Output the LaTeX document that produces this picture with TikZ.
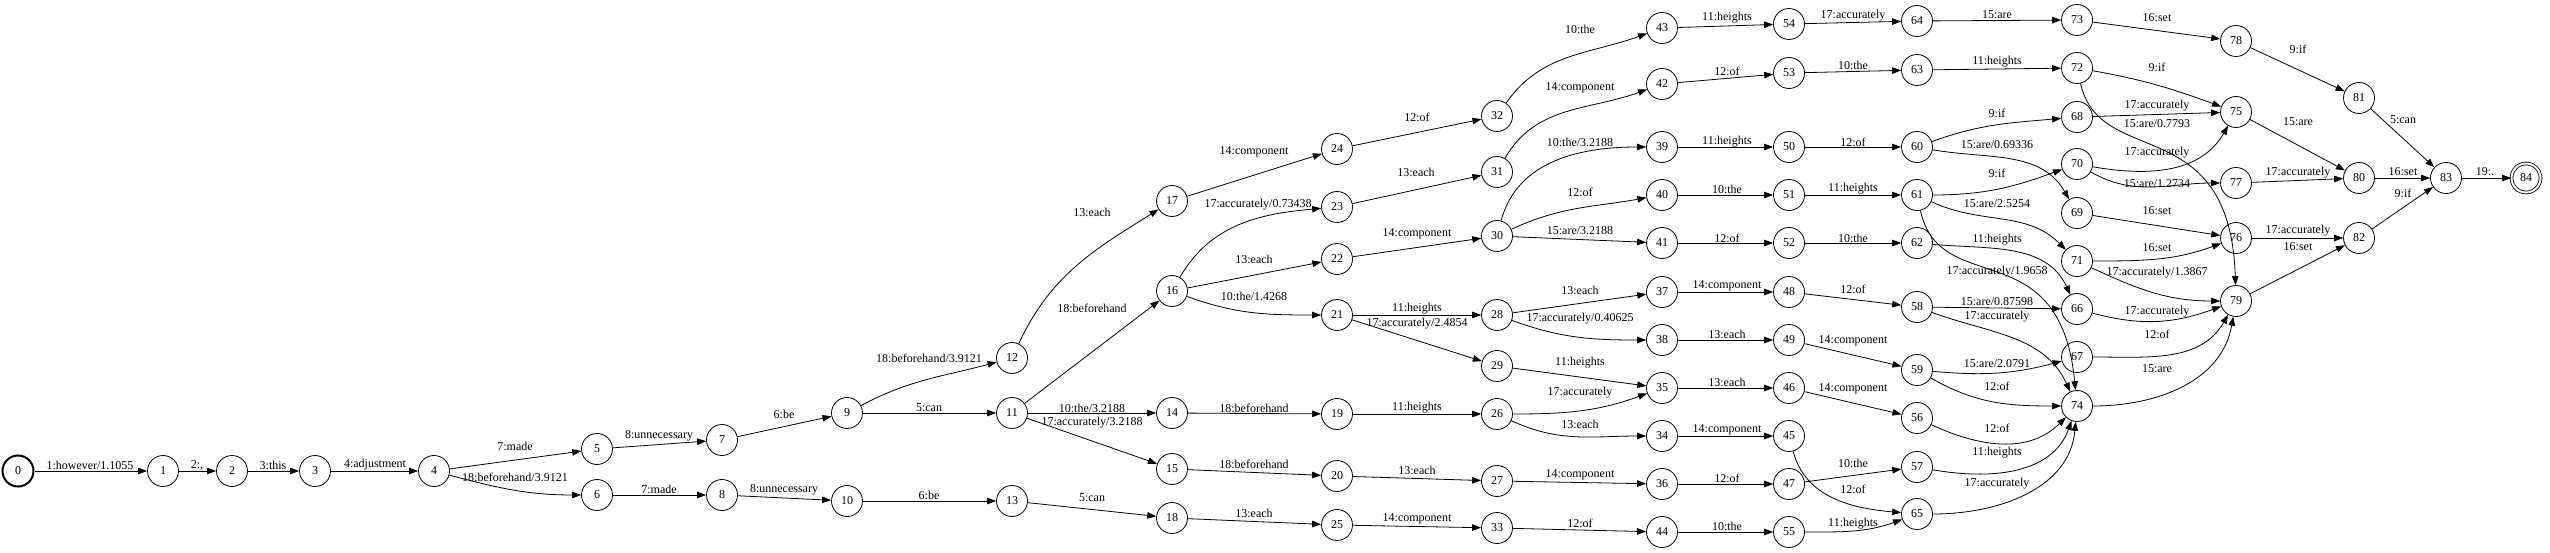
\documentclass[tikz,border=0pt]{standalone}
\usepackage{fontspec}
\setmainfont{Liberation Serif}
\usetikzlibrary{arrows.meta}

\tikzset{
  state/.style={circle, draw, minimum size=31pt, inner sep=0pt},
  initstate/.style={state, line width=2pt},
  finalstate/.style={state, double, double distance=2pt, minimum size=29pt},
  lbl/.style={inner sep=0pt}
}

\begin{document}
\begin{tikzpicture}[x=1pt, y=1pt, line width=0.8pt, font=\fontsize{12}{14}\selectfont,
    >={Triangle[length=9pt, width=6.5pt]}]
        \useasboundingbox (0,0) rectangle (2550,552);

        % States, column by column
        \node[initstate] (s0) at (18,81) {0};
        \node[state] (s1) at (163,81) {1};
        \node[state] (s2) at (232,81) {2};
        \node[state] (s3) at (315,81) {3};
        \node[state] (s4) at (434,81) {4};
        \node[state] (s5) at (597,103) {5};
        \node[state] (s6) at (597,57) {6};
        \node[state] (s7) at (722,112) {7};
        \node[state] (s8) at (722,57) {8};
        \node[state] (s9) at (847,139) {9};
        \node[state] (s10) at (847,51) {10};
        \node[state] (s11) at (1012,139) {11};
        \node[state] (s12) at (1012,194) {12};
        \node[state] (s13) at (1012,51) {13};
        \node[state] (s14) at (1172,139) {14};
        \node[state] (s15) at (1172,83) {15};
        \node[state] (s16) at (1172,261) {16};
        \node[state] (s17) at (1172,351) {17};
        \node[state] (s18) at (1172,34) {18};
        \node[state] (s19) at (1337,138) {19};
        \node[state] (s20) at (1337,76) {20};
        \node[state] (s21) at (1337,237) {21};
        \node[state] (s22) at (1337,293) {22};
        \node[state] (s23) at (1337,345) {23};
        \node[state] (s24) at (1337,403) {24};
        \node[state] (s25) at (1337,27) {25};
        \node[state] (s26) at (1497,138) {26};
        \node[state] (s27) at (1497,71) {27};
        \node[state] (s28) at (1497,237) {28};
        \node[state] (s29) at (1497,186) {29};
        \node[state] (s30) at (1497,316) {30};
        \node[state] (s31) at (1497,380) {31};
        \node[state] (s32) at (1497,436) {32};
        \node[state] (s33) at (1497,24) {33};
        \node[state] (s34) at (1662,116) {34};
        \node[state] (s35) at (1662,164) {35};
        \node[state] (s36) at (1662,68) {36};
        \node[state] (s37) at (1662,260) {37};
        \node[state] (s38) at (1662,212) {38};
        \node[state] (s39) at (1662,405) {39};
        \node[state] (s40) at (1662,357) {40};
        \node[state] (s41) at (1662,309) {41};
        \node[state] (s42) at (1662,468) {42};
        \node[state] (s43) at (1662,524) {43};
        \node[state] (s44) at (1662,20) {44};
        \node[state] (s45) at (1789,116) {45};
        \node[state] (s46) at (1789,164) {46};
        \node[state] (s47) at (1789,68) {47};
        \node[state] (s48) at (1789,260) {48};
        \node[state] (s49) at (1789,212) {49};
        \node[state] (s50) at (1789,405) {50};
        \node[state] (s51) at (1789,357) {51};
        \node[state] (s52) at (1789,309) {52};
        \node[state] (s53) at (1789,479) {53};
        \node[state] (s54) at (1789,528) {54};
        \node[state] (s55) at (1789,20) {55};
        \node[state] (s56) at (1917,134) {56};
        \node[state] (s57) at (1917,85) {57};
        \node[state] (s58) at (1917,245) {58};
        \node[state] (s59) at (1917,182) {59};
        \node[state] (s60) at (1917,405) {60};
        \node[state] (s61) at (1917,357) {61};
        \node[state] (s62) at (1917,309) {62};
        \node[state] (s63) at (1917,482) {63};
        \node[state] (s64) at (1917,531) {64};
        \node[state] (s65) at (1917,38) {65};
        \node[state] (s66) at (2077,243) {66};
        \node[state] (s67) at (2077,195) {67};
        \node[state] (s68) at (2077,435) {68};
        \node[state] (s69) at (2077,339) {69};
        \node[state] (s70) at (2077,388) {70};
        \node[state] (s71) at (2077,291) {71};
        \node[state] (s72) at (2077,484) {72};
        \node[state] (s73) at (2077,532) {73};
        \node[state] (s74) at (2077,146) {74};
        \node[state] (s75) at (2236,440) {75};
        \node[state] (s76) at (2236,314) {76};
        \node[state] (s77) at (2236,369) {77};
        \node[state] (s78) at (2236,511) {78};
        \node[state] (s79) at (2236,251) {79};
        \node[state] (s80) at (2359,374) {80};
        \node[state] (s81) at (2359,454) {81};
        \node[state] (s82) at (2359,314) {82};
        \node[state] (s83) at (2446,374) {83};
        \node[finalstate] (s84) at (2526,374) {84};

        % Opening words
        \draw[->] (s0) -- (s1) node[lbl] at (90,87) {1:however/1.1055};
        \draw[->] (s1) -- (s2) node[lbl] at (197,87) {2:,};
        \draw[->] (s2) -- (s3) node[lbl] at (273,87) {3:this};
        \draw[->] (s3) -- (s4) node[lbl] at (375,87) {4:adjustment};
        \draw[->] (s4) -- (s5) node[lbl] at (515,106) {7:made};
        \draw[->] (s4) to[out=-15, in=180] (s6) node[lbl] at (515,75) {18:beforehand/3.9121};
        \draw[->] (s5) -- (s7) node[lbl] at (659,116) {8:unnecessary};
        \draw[->] (s6) -- (s8) node[lbl] at (659,63) {7:made};
        \draw[->] (s7) -- (s9) node[lbl] at (784,138) {6:be};
        \draw[->] (s8) -- (s10) node[lbl] at (784,62) {8:unnecessary};

        % Branching after 9 and 10
        \draw[->] (s9) to[out=28, in=195] (s12) node[lbl] at (929,194) {18:beforehand/3.9121};
        \draw[->] (s9) -- (s11) node[lbl] at (929,144) {5:can};
        \draw[->] (s10) -- (s13) node[lbl] at (929,57) {6:be};
        \draw[->] (s11) -- (s16) node[lbl] at (1092,244) {18:beforehand};
        \draw[->] (s11) -- (s14) node[lbl] at (1092,144) {10:the/3.2188};
        \draw[->] (s11) -- (s15) node[lbl] at (1092,129) {17:accurately/3.2188};
        \draw[->] (s12) to[out=65, in=212] (s17) node[lbl] at (1092,340) {13:each};
        \draw[->] (s13) -- (s18) node[lbl] at (1092,54) {5:can};

        % Next column
        \draw[->] (s16) to[out=60, in=185] (s23) node[lbl] at (1258,347) {17:accurately/0.73438};
        \draw[->] (s16) -- (s22) node[lbl] at (1254,293) {13:each};
        \draw[->] (s16) to[out=-20, in=180] (s21) node[lbl] at (1254,256) {10:the/1.4268};
        \draw[->] (s17) -- (s24) node[lbl] at (1254,400) {14:component};
        \draw[->] (s14) -- (s19) node[lbl] at (1254,144) {18:beforehand};
        \draw[->] (s15) -- (s20) node[lbl] at (1254,88) {18:beforehand};
        \draw[->] (s18) -- (s25) node[lbl] at (1254,39) {13:each};

        \draw[->] (s24) -- (s32) node[lbl] at (1417,435) {12:of};
        \draw[->] (s23) -- (s31) node[lbl] at (1416,380) {13:each};
        \draw[->] (s22) -- (s30) node[lbl] at (1417,318) {14:component};
        \draw[->] (s21) -- (s28) node[lbl] at (1417,243) {11:heights};
        \draw[->] (s21) -- (s29) node[lbl] at (1417,228) {17:accurately/2.4854};
        \draw[->] (s19) -- (s26) node[lbl] at (1417,144) {11:heights};
        \draw[->] (s20) -- (s27) node[lbl] at (1417,82) {13:each};
        \draw[->] (s25) -- (s33) node[lbl] at (1417,33) {14:component};

        \draw[->] (s32) to[out=55, in=200] (s43) node[lbl] at (1580,523) {10:the};
        \draw[->] (s31) to[out=60, in=200] (s42) node[lbl] at (1580,464) {14:component};
        \draw[->] (s30) to[out=75, in=180] (s39) node[lbl] at (1580,410) {10:the/3.2188};
        \draw[->] (s30) to[out=25, in=190] (s40) node[lbl] at (1580,360) {12:of};
        \draw[->] (s30) -- (s41) node[lbl] at (1580,321) {15:are/3.2188};
        \draw[->] (s28) -- (s37) node[lbl] at (1580,262) {13:each};
        \draw[->] (s28) to[out=-20, in=180] (s38) node[lbl] at (1580,233) {17:accurately/0.40625};
        \draw[->] (s29) -- (s35) node[lbl] at (1580,189) {11:heights};
        \draw[->] (s26) to[out=0, in=200] (s35) node[lbl] at (1580,159) {17:accurately};
        \draw[->] (s26) to[out=-25, in=180] (s34) node[lbl] at (1580,128) {13:each};
        \draw[->] (s27) -- (s36) node[lbl] at (1580,77) {14:component};
        \draw[->] (s33) -- (s44) node[lbl] at (1580,29) {12:of};

        \draw[->] (s43) -- (s54) node[lbl] at (1727,534) {11:heights};
        \draw[->] (s42) -- (s53) node[lbl] at (1727,481) {12:of};
        \draw[->] (s39) -- (s50) node[lbl] at (1727,410) {11:heights};
        \draw[->] (s40) -- (s51) node[lbl] at (1727,363) {10:the};
        \draw[->] (s41) -- (s52) node[lbl] at (1727,314) {12:of};
        \draw[->] (s37) -- (s48) node[lbl] at (1727,266) {14:component};
        \draw[->] (s38) -- (s49) node[lbl] at (1727,218) {13:each};
        \draw[->] (s35) -- (s46) node[lbl] at (1727,170) {13:each};
        \draw[->] (s34) -- (s45) node[lbl] at (1727,122) {14:component};
        \draw[->] (s36) -- (s47) node[lbl] at (1727,74) {12:of};
        \draw[->] (s44) -- (s55) node[lbl] at (1727,26) {10:the};

        \draw[->] (s54) -- (s64) node[lbl] at (1853,536) {17:accurately};
        \draw[->] (s53) -- (s63) node[lbl] at (1853,487) {10:the};
        \draw[->] (s50) -- (s60) node[lbl] at (1853,410) {12:of};
        \draw[->] (s51) -- (s61) node[lbl] at (1853,363) {11:heights};
        \draw[->] (s52) -- (s62) node[lbl] at (1853,314) {10:the};
        \draw[->] (s48) -- (s58) node[lbl] at (1853,263) {12:of};
        \draw[->] (s49) -- (s59) node[lbl] at (1853,211) {14:component};
        \draw[->] (s46) -- (s56) node[lbl] at (1853,163) {14:component};
        \draw[->] (s47) -- (s57) node[lbl] at (1853,89) {10:the};
        \draw[->] (s45) to[out=-75, in=175] (s65) node[lbl] at (1853,63) {12:of};
        \draw[->] (s55) to[out=0, in=200] (s65) node[lbl] at (1853,28) {11:heights};

        % The tangle before 74
        \draw[->] (s64) -- (s73) node[lbl] at (1997,537) {15:are};
        \draw[->] (s63) -- (s72) node[lbl] at (1997,490) {11:heights};
        \draw[->] (s60) to[out=20, in=185] (s68) node[lbl] at (1997,439) {9:if};
        \draw[->] (s60) to[out=-10, in=120] (s69) node[lbl] at (1997,407) {15:are/0.69336};
        \draw[->] (s61) to[out=0, in=200] (s70) node[lbl] at (1997,379) {9:if};
        \draw[->] (s61) to[out=-25, in=135] (s71) node[lbl] at (1997,348) {15:are/2.5254};
        \draw[->] (s61) .. controls (1940,252) and (2060,322) .. (s74) node[lbl] at (1997,280) {17:accurately/1.9658};
        \draw[->] (s62) to[out=-5, in=115] (s66) node[lbl] at (1997,312) {11:heights};
        \draw[->] (s58) -- (s66) node[lbl] at (1997,250) {15:are/0.87598};
        \draw[->] (s58) to[out=-20, in=115] (s74) node[lbl] at (1997,235) {17:accurately};
        \draw[->] (s59) to[out=-5, in=195] (s67) node[lbl] at (1997,188) {15:are/2.0791};
        \draw[->] (s59) to[out=-30, in=180] (s74) node[lbl] at (1997,166) {12:of};
        \draw[->] (s56) to[out=-25, in=225] (s74) node[lbl] at (1997,124) {12:of};
        \draw[->] (s57) to[out=-10, in=250] (s74) node[lbl] at (1997,99) {11:heights};
        \draw[->] (s65) to[out=0, in=265] (s74) node[lbl] at (1997,68) {17:accurately};

        % Closing words
        \draw[->] (s73) -- (s78) node[lbl] at (2157,534) {16:set};
        \draw[->] (s72) to[out=-10, in=160] (s75) node[lbl] at (2157,485) {9:if};
        \draw[->] (s68) -- (s75) node[lbl] at (2157,446) {17:accurately};
        \draw[->] (s72) .. controls (2100,382) and (2230,442) .. (s79) node[lbl] at (2157,428) {15:are/0.7793};
        \draw[->] (s70) to[out=-10, in=240] (s75) node[lbl] at (2157,399) {17:accurately};
        \draw[->] (s70) to[out=-30, in=180] (s77) node[lbl] at (2157,368) {15:are/1.2734};
        \draw[->] (s69) -- (s76) node[lbl] at (2157,341) {16:set};
        \draw[->] (s71) to[out=0, in=200] (s76) node[lbl] at (2157,304) {16:set};
        \draw[->] (s71) to[out=-25, in=180] (s79) node[lbl] at (2157,279) {17:accurately/1.3867};
        \draw[->] (s66) to[out=-15, in=200] (s79) node[lbl] at (2157,240) {17:accurately};
        \draw[->] (s67) to[out=0, in=240] (s79) node[lbl] at (2157,218) {12:of};
        \draw[->] (s74) to[out=0, in=260] (s79) node[lbl] at (2157,183) {15:are};

        \draw[->] (s78) -- (s81) node[lbl] at (2298,503) {9:if};
        \draw[->] (s75) -- (s80) node[lbl] at (2298,430) {15:are};
        \draw[->] (s77) -- (s80) node[lbl] at (2298,379) {17:accurately};
        \draw[->] (s76) -- (s82) node[lbl] at (2298,321) {17:accurately};
        \draw[->] (s79) -- (s82) node[lbl] at (2298,305) {16:set};
        \draw[->] (s81) -- (s83) node[lbl] at (2403,432) {5:can};
        \draw[->] (s80) -- (s83) node[lbl] at (2403,380) {16:set};
        \draw[->] (s82) -- (s83) node[lbl] at (2403,359) {9:if};
        \draw[->] (s83) -- (s84) node[lbl] at (2485,380) {19:.};
    \end{tikzpicture}
\end{document}
